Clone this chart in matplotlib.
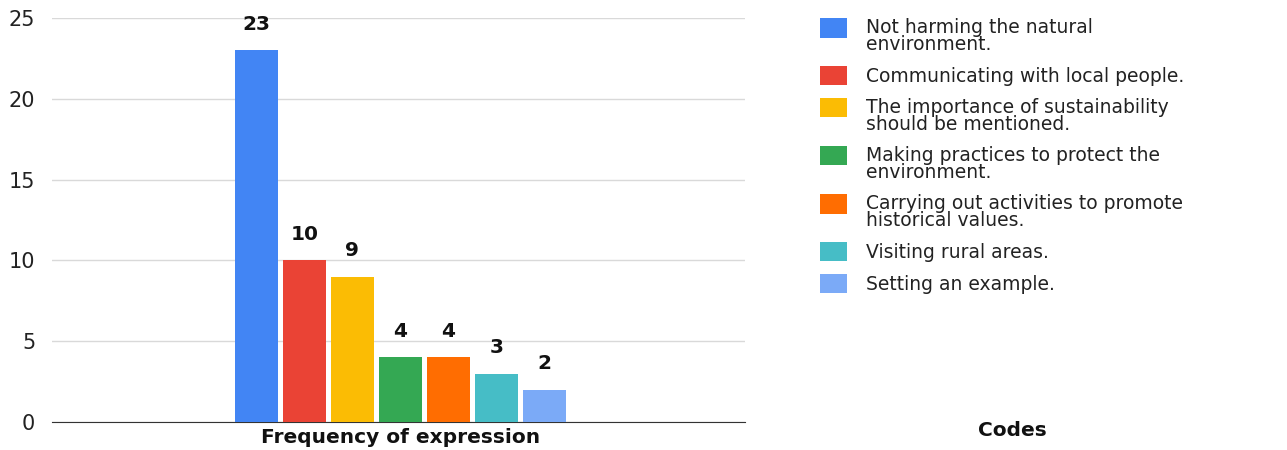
import matplotlib
matplotlib.use('Agg')
import matplotlib.pyplot as plt

codes = [
    "Not harming the natural\nenvironment.",
    "Communicating with local people.",
    "The importance of sustainability\nshould be mentioned.",
    "Making practices to protect the\nenvironment.",
    "Carrying out activities to promote\nhistorical values.",
    "Visiting rural areas.",
    "Setting an example.",
]
counts = [23, 10, 9, 4, 4, 3, 2]
colors = ["#4285F4", "#EA4335", "#FBBC04", "#34A853", "#FF6D01", "#46BDC6", "#7BAAF7"]
group_label = "Frequency of expression"

plt.rcParams['font.family'] = ['DejaVu Sans']

fig = plt.figure(figsize=(12.87, 4.5), dpi=100)
ax = fig.add_axes([52/1287, 1-422/450, (745-52)/1287, (422-18)/450])

handles = []
for i, (c, v, col) in enumerate(zip(codes, counts, colors)):
    b = ax.bar(i, v, width=0.9, color=col, label=c, zorder=3)
    handles.append(b)
    ax.annotate(str(v), (i, v), xytext=(0, 12), textcoords='offset points',
                ha='center', va='bottom', fontsize=14.5, fontweight='bold', color='#111111')

ax.set_xlim(-4.26, 10.18)
ax.set_ylim(0, 25)
ax.set_yticks([0, 5, 10, 15, 20, 25])
ax.grid(axis='y', color='#d9d9d9', linewidth=1, zorder=0)
for s in ['top', 'right', 'left']:
    ax.spines[s].set_visible(False)
ax.spines['bottom'].set_color('#333333')
ax.tick_params(axis='y', length=0, labelsize=15, colors='#222222', pad=12)
ax.set_xticks([3])
ax.set_xticklabels([group_label], fontsize=14.5, fontweight='bold', color='#111111')
ax.tick_params(axis='x', length=0, pad=4)

fs = 13.5
leg = fig.legend(handles=handles, loc='upper left', bbox_to_anchor=(820/1287, 1-18/450),
                 frameon=False, fontsize=fs, handlelength=1.44, handleheight=1.2,
                 handletextpad=1.0, labelspacing=0.62, borderaxespad=0, borderpad=0)
for t, h in zip(leg.get_texts(), leg.legend_handles):
    t.set_linespacing(0.9)
    t.set_color('#222222')
    if "\n" in t.get_text():
        # keep the colour box level with the first line
        h.set_y(h.get_y() + fs * 0.5)

fig.text(1012/1287, 1-430/450, "Codes", ha='center', va='center',
         fontsize=14.5, fontweight='bold', color='#111111')

fig.savefig('out.png', dpi=100)
